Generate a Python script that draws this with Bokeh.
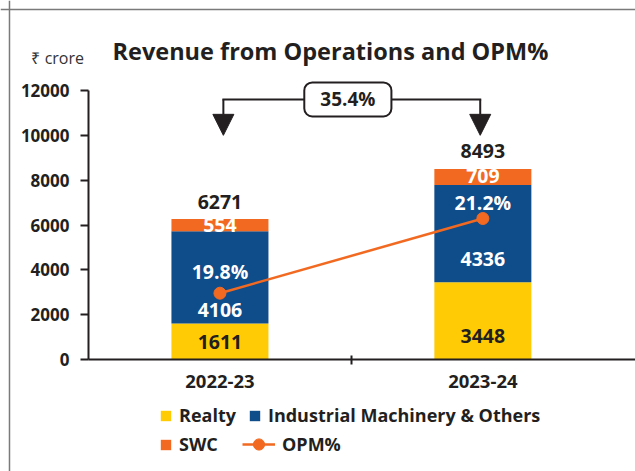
from bokeh.plotting import figure
from bokeh.models import (Range1d, LinearAxis, FixedTicker, Label, Legend, LegendItem,
                          Arrow, NormalHead, ColumnDataSource, Span)
from bokeh.core.properties import value
from bokeh.embed import file_html
from bokeh.resources import INLINE

# ---------------- data ----------------
years = ["2022-23", "2023-24"]
realty = [1611, 3448]
imo = [4106, 4336]          # Industrial Machinery & Others
swc = [554, 709]
totals = [6271, 8493]
opm = [19.8, 21.2]          # OPM %
y_ticks = [0, 2000, 4000, 6000, 8000, 10000, 12000]

# ---------------- style ----------------
FONT = "Open Sans"
DARK = "#231F20"
YELLOW = "#FFCB05"
BLUE = "#0F4C8A"
ORANGE = "#F26A21"

xs = [0.5, 1.5]  # category centres on a numeric scale

# the frame fills the whole canvas; axes are pinned with fixed_location
p = figure(width=635, height=471, output_backend="svg", toolbar_location=None,
           x_range=Range1d(-0.3347, 2.0806), y_range=Range1d(-4996, 16015),
           min_border=0)
p.grid.visible = False
p.outline_line_color = None

# page frame lines (left and top)
p.add_layout(Span(location=-0.3005, dimension="height", line_color="#7a7a7a",
                  line_width=1.5))
p.add_layout(Span(location=15613, dimension="width", line_color="#7a7a7a",
                  line_width=1.5))

# title and unit
p.add_layout(Label(x=0.0913, y=13740, text="Revenue from Operations and OPM%",
                   text_font=FONT, text_font_size="23.5px", text_font_style="bold",
                   text_color=DARK, text_baseline="middle"))
p.add_layout(Label(x=-0.2168, y=13470, text="₹ crore", text_font=FONT,
                   text_font_size="16px", text_color="#333333",
                   text_baseline="middle"))

# ---------------- bars ----------------
src = ColumnDataSource(dict(x=xs, Realty=realty, IMO=imo, SWC=swc))
bars = p.vbar_stack(["Realty", "IMO", "SWC"], x="x", width=0.369, source=src,
                    fill_color=[YELLOW, BLUE, ORANGE], line_alpha=0)

# segment labels
lab_x, lab_y, lab_t, lab_c, lab_off = [], [], [], [], []
realty_off = [1, 15]
imo_off = [33, 25]
swc_off = [0, -1]
tot_off = [-17, -18]
for i, x in enumerate(xs):
    b0 = 0
    for vals, col, offs in ((realty, DARK, realty_off), (imo, "white", imo_off),
                            (swc, "white", swc_off)):
        lab_x.append(x)
        lab_y.append(b0 + vals[i] / 2)
        lab_t.append(str(vals[i]))
        lab_c.append(col)
        lab_off.append(offs[i])
        b0 += vals[i]
    lab_x.append(x)
    lab_y.append(totals[i])
    lab_t.append(str(totals[i]))
    lab_c.append(DARK)
    lab_off.append(tot_off[i])

p.text(x=lab_x, y=lab_y, text=lab_t, text_color=lab_c, y_offset=lab_off,
       text_align="center", text_baseline="middle", text_font=value(FONT),
       text_font_size="19.5px", text_font_style="bold")

# ---------------- OPM line (hidden secondary scale) ----------------
k = 2380.0  # primary units per OPM point
a = opm[0] - 2958 / k
p.extra_y_ranges = {"opm": Range1d(a + p.y_range.start / k, a + p.y_range.end / k)}
opm_line = p.line(xs, opm, y_range_name="opm", line_color=ORANGE, line_width=2.5)
opm_dots = p.scatter(xs, opm, y_range_name="opm", size=12, fill_color=ORANGE,
                     line_color=ORANGE)
p.text(x=xs, y=opm, text=[f"{v:.1f}%" for v in opm], y_range_name="opm",
       y_offset=[-22, -16], text_color="white", text_align="center",
       text_baseline="middle", text_font=value(FONT), text_font_size="19.5px",
       text_font_style="bold")

# ---------------- growth bracket ----------------
growth = (totals[1] / totals[0] - 1) * 100
bx0, bx1 = xs[0] + 0.013, xs[1] - 0.01
by, tip = 11600, 10000
p.line([bx0, bx1], [by, by], line_color=DARK, line_width=2, line_cap="square")
for bx in (bx0, bx1):
    p.add_layout(Arrow(end=NormalHead(size=21, fill_color=DARK, line_color=DARK),
                       x_start=bx, y_start=by, x_end=bx, y_end=tip,
                       line_color=DARK, line_width=2))
p.add_layout(Label(x=(bx0 + bx1) / 2 - 0.015, y=by, text=f"{growth:.1f}%",
                   text_align="center", text_baseline="middle", text_font=FONT,
                   text_font_size="19px", text_font_style="bold", text_color=DARK,
                   border_line_color=DARK, border_line_width=2, border_radius=8,
                   background_fill_color="white",
                   padding=dict(left=16, right=16, top=4, bottom=4)))

# ---------------- axes ----------------
yax = p.yaxis[0]
yax.fixed_location = 0
yax.ticker = FixedTicker(ticks=y_ticks)
yax.bounds = (0, 12000)
yax.major_tick_out = 8
yax.major_tick_in = 0
yax.minor_tick_line_color = None
yax.axis_line_width = 2
yax.axis_line_color = DARK
yax.major_tick_line_width = 2
yax.major_tick_line_color = DARK
yax.major_label_text_font = FONT
yax.major_label_text_font_size = "17px"
yax.major_label_text_font_style = "bold"
yax.major_label_text_color = DARK
yax.major_label_standoff = 11

xa = p.xaxis[0]
xa.fixed_location = 0
xa.bounds = (0, 2.0806)
xa.ticker = FixedTicker(ticks=[1.0])
xa.major_tick_out = 5
xa.major_tick_in = 4
xa.minor_tick_line_color = None
xa.axis_line_width = 2
xa.axis_line_color = DARK
xa.major_tick_line_width = 2
xa.major_tick_line_color = DARK
xa.major_label_text_color = None
xa.major_label_text_font_size = "1px"
xa.major_label_standoff = 0

xb = LinearAxis(ticker=FixedTicker(ticks=xs), fixed_location=0,
                major_label_overrides={xs[0]: years[0], xs[1]: years[1]},
                axis_line_color=None, major_tick_line_color=None,
                minor_tick_line_color=None, major_label_standoff=9,
                major_label_text_font=FONT, major_label_text_font_size="18.5px",
                major_label_text_font_style="bold", major_label_text_color=DARK)
p.add_layout(xb, "below")

# ---------------- legends ----------------
def style(leg, gw=13, gh=13):
    leg.label_text_font = FONT
    leg.label_text_font_size = "18px"
    leg.label_text_font_style = "bold"
    leg.label_text_color = DARK
    leg.glyph_width = gw
    leg.glyph_height = gh
    leg.label_standoff = 7
    leg.spacing = 12
    leg.padding = 0
    leg.margin = 0
    leg.border_line_color = None
    leg.background_fill_alpha = 0
    return leg

leg1 = style(Legend(items=[LegendItem(label="Realty", renderers=[bars[0]]),
                           LegendItem(label="Industrial Machinery & Others",
                                      renderers=[bars[1]])],
                    orientation="horizontal", location=(159, 44)))
leg2 = style(Legend(items=[LegendItem(label="SWC", renderers=[bars[2]])],
                    location=(159, 15)))
leg3 = style(Legend(items=[LegendItem(label="OPM%", renderers=[opm_line, opm_dots])],
                    location=(242, 13)), gw=33, gh=28)
for leg in (leg1, leg2, leg3):
    p.add_layout(leg, "center")

open("out.html", "w").write(file_html(p, INLINE))
